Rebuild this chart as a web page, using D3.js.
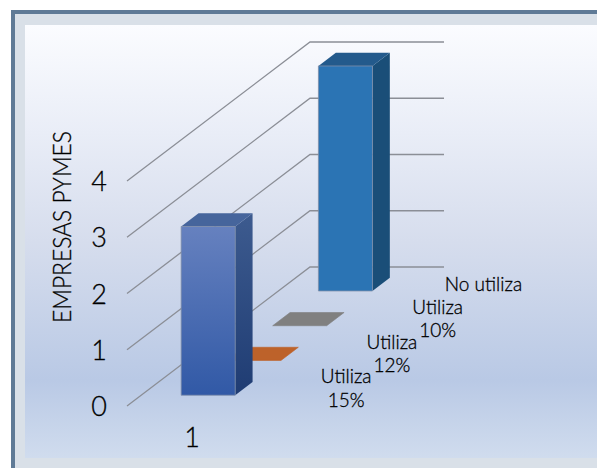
<!DOCTYPE html>
<html><head><meta charset="utf-8">
<script src="https://cdn.jsdelivr.net/npm/d3@7/dist/d3.min.js"></script>
<style>html,body{margin:0;padding:0;background:#fff}svg{display:block}text{font-family:Lato,sans-serif;fill:#000;stroke:#000;stroke-width:.3px}</style>
</head><body><svg id="c" width="597" height="468"></svg>
<script>
const categories = ["1"];
const seriesNames = ["Utiliza 15%", "Utiliza 12%", "Utiliza 10%", "No utiliza"];
const seriesValues = [3, 0, 0, 4];
const valueTicks = [0, 1, 2, 3, 4];
const yTitle = "EMPRESAS PYMES";
const seriesFront = [["#6681bf", "#3159a6"], ["#bd622a", "#bd622a"], ["#808080", "#808080"], ["#2b74b4", "#2b74b4"]];
const seriesTop = ["#46659c", "#bd622a", "#808080", "#235a8c"];
const seriesSide = [["#3d5b8f", "#1f3c73"], ["#8a4a20", "#8a4a20"], ["#5f5f5f", "#5f5f5f"], ["#1a4e78", "#1a4e78"]];

const svg = d3.select("#c");
const defs = svg.append("defs");
const bg = defs.append("linearGradient").attr("id", "bg").attr("x1", 0).attr("x2", 0).attr("y1", 0).attr("y2", 1);
[[0, "#fbfcff"], [0.25, "#e9edf7"], [0.5, "#d6dded"], [0.82, "#b9c9e5"], [1, "#d0dcee"]].forEach(s => bg.append("stop").attr("offset", s[0]).attr("stop-color", s[1]));

// frame
svg.append("rect").attr("x", 11).attr("y", 10).attr("width", 586).attr("height", 458).attr("fill", "#5f7a96");
svg.append("rect").attr("x", 15).attr("y", 14).attr("width", 582).attr("height", 454).attr("fill", "#d9e0e8");
svg.append("rect").attr("x", 25).attr("y", 25).attr("width", 572).attr("height", 433).attr("fill", "url(#bg)");

// scales: front plane, floor width, floor depth
const y = d3.scaleLinear().domain([0, 4]).range([406, 181]);
const x = d3.scaleBand().domain(categories).range([0, 134]).paddingInner(0).paddingOuter(0.74);
const depth = d3.scaleBand().domain(seriesNames).range([0, 1]).paddingInner(0.62).paddingOuter(0.31);
const originX = 127, backDX = 183, backDY = -139;
const P = (a, d, v) => [originX + a + backDX * d, y(v) + backDY * d];

// gridlines
const grid = svg.append("g");
valueTicks.forEach(v => {
  grid.append("polyline")
    .attr("points", [P(0, 0, v), P(0, 1, v), P(134, 1, v)].join(" "))
    .attr("fill", "none").attr("stroke", "#8b8e96").attr("stroke-width", 1.3);
});

// value axis
const axis = svg.append("g").attr("transform", "translate(107,1)")
  .call(d3.axisLeft(y).tickValues(valueTicks).tickFormat(d3.format("d")).tickSize(0).tickPadding(0));
axis.select(".domain").remove();
axis.selectAll("text").attr("font-size", 27).attr("font-family", "Lato").attr("fill", "#000").attr("font-weight", 300);

// bars, back to front
const order = d3.range(seriesNames.length).reverse();
order.forEach(i => {
  const s = seriesNames[i], v = seriesValues[i];
  const a0 = x(categories[0]), a1 = a0 + x.bandwidth(), d0 = depth(s), d1 = d0 + depth.bandwidth();
  const g = svg.append("g");
  const poly = pts => pts.join(" ");
  if (v > 0) {
    const fid = "f" + i, sid = "s" + i;
    [[fid, seriesFront[i]], [sid, seriesSide[i]]].forEach(([id, c]) => {
      const lg = defs.append("linearGradient").attr("id", id).attr("x1", 0).attr("x2", 0).attr("y1", 0).attr("y2", 1);
      lg.append("stop").attr("offset", 0).attr("stop-color", c[0]);
      lg.append("stop").attr("offset", 1).attr("stop-color", c[1]);
    });
    g.append("polygon").attr("points", poly([P(a1, d0, v), P(a1, d1, v), P(a1, d1, 0), P(a1, d0, 0)])).attr("fill", `url(#${sid})`);
    g.append("polygon").attr("points", poly([P(a0, d0, v), P(a1, d0, v), P(a1, d1, v), P(a0, d1, v)])).attr("fill", seriesTop[i]);
    g.append("polygon").attr("points", poly([P(a0, d0, v), P(a1, d0, v), P(a1, d0, 0), P(a0, d0, 0)])).attr("fill", `url(#${fid})`)
      .attr("stroke", "#7f8ea8").attr("stroke-width", 0.8);
  } else {
    g.append("polygon").attr("points", poly([P(a0, d0, 0), P(a1, d0, 0), P(a1, d1, 0), P(a0, d1, 0)]))
      .attr("fill", seriesTop[i]).attr("stroke", seriesTop[i]).attr("stroke-width", 0.6);
  }
});

// series labels on the floor's depth axis
const labelA = 205, lineH = 23.5;
seriesNames.forEach(s => {
  const lines = s.startsWith("Utiliza") ? s.split(" ") : [s];
  const [cx, cy] = P(labelA, depth(s), 0);
  lines.forEach((t, k) => {
    svg.append("text").attr("x", cx).attr("y", cy + (k - (lines.length - 1) / 2) * lineH)
      .attr("text-anchor", "middle").attr("font-size", 19).attr("font-weight", 300).text(t);
  });
});

// category label
svg.append("text").attr("x", 192).attr("y", 447).attr("text-anchor", "middle").attr("font-size", 27).attr("font-weight", 300).text(categories[0]);

// axis title
svg.append("text").attr("transform", "translate(71,323) rotate(-90)").attr("font-size", 25).attr("font-weight", 300)
  .attr("textLength", 192).attr("lengthAdjust", "spacingAndGlyphs").text(yTitle);
</script></body></html>
